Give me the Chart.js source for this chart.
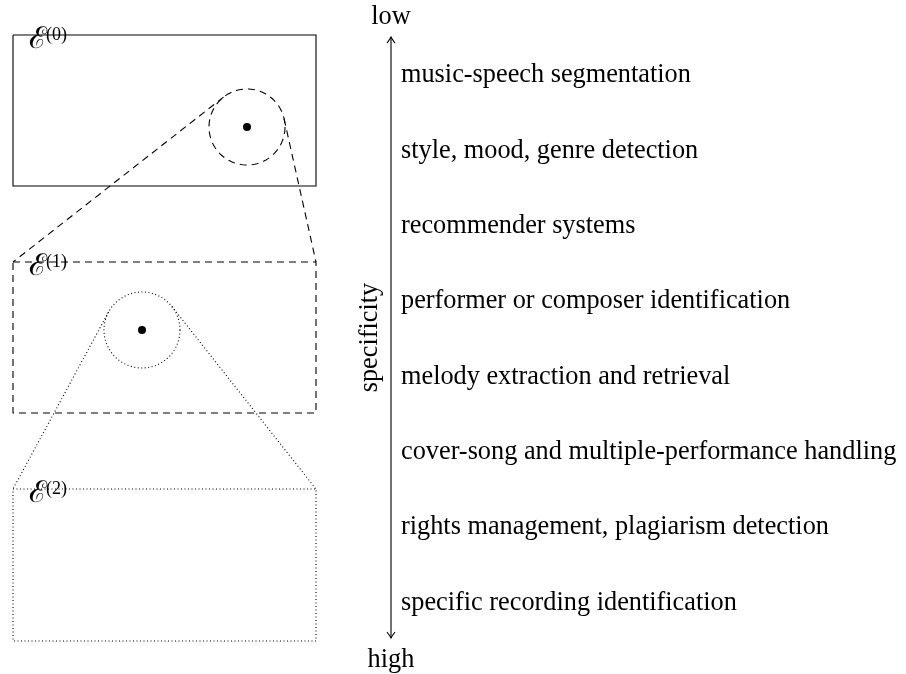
<!DOCTYPE html>
<html>
<head>
<meta charset="utf-8">
<script src="https://cdn.jsdelivr.net/npm/chart.js@4"></script>
<style>
  body { margin: 0; background: #fff; }
  #wrap { width: 906px; height: 674px; }
</style>
</head>
<body>
<div id="wrap"><canvas id="diagram" width="906" height="674"></canvas></div>
<script>
// tasks, from least specific (top) to most specific (bottom)
const tasks = [
    'music-speech segmentation',
    'style, mood, genre detection',
    'recommender systems',
    'performer or composer identification',
    'melody extraction and retrieval',
    'cover-song and multiple-performance handling',
    'rights management, plagiarism detection',
    'specific recording identification'
]
const axisEnds = ['low', 'high']
const axisTitle = 'specificity'

// the nested neighbourhoods, in diagram units
const boxNames = ['0', '1', '2']
const boxLeft = [13, 13, 13]
const boxRight = [316, 316, 316]
const boxTop = [35, 262, 489]
const boxBottom = [186, 413, 641]
const centerX = [247, 142]
const centerY = [127, 330]
const radius = [38, 38]

const dashes = [[], [7, 5], [1, 2.5]]
const ink = '#000'
const serif = '"Liberation Serif", "DejaVu Serif", serif'

function boxPath(i) {
    return [
        { x: boxLeft[i], y: boxTop[i] },
        { x: boxRight[i], y: boxTop[i] },
        { x: boxRight[i], y: boxBottom[i] },
        { x: boxLeft[i], y: boxBottom[i] },
        { x: boxLeft[i], y: boxTop[i] }
    ]
}

function circlePath(i) {
    let pts = []
    for (let k = 0; k <= 120; k++) {
        let a = k / 120 * Math.PI * 2
        pts.push({ x: centerX[i] + radius[i] * Math.cos(a), y: centerY[i] + radius[i] * Math.sin(a) })
    }
    return pts
}

//tangent from a box corner to circle i, the one on the outer side
function tangent(i, px, py, otherX, otherY) {
    let dx = px - centerX[i], dy = py - centerY[i]
    let d = Math.hypot(dx, dy)
    let th = Math.atan2(dy, dx), al = Math.acos(radius[i] / d)
    let cands = [th + al, th - al].map(a => ({ x: centerX[i] + radius[i] * Math.cos(a), y: centerY[i] + radius[i] * Math.sin(a) }))
    cands.sort((a, b) => Math.hypot(b.x - otherX, b.y - otherY) - Math.hypot(a.x - otherX, a.y - otherY))
    return [cands[0], { x: px, y: py }]
}

let datasets = []
for (let i = 0; i < 3; i++) {
    datasets.push({ data: boxPath(i), borderDash: dashes[i] })
}
for (let i = 0; i < 2; i++) {
    let L = boxLeft[i + 1], R = boxRight[i + 1], T = boxTop[i + 1]
    datasets.push({ data: circlePath(i), borderDash: dashes[i + 1] })
    datasets.push({ data: tangent(i, L, T, R, T), borderDash: dashes[i + 1] })
    datasets.push({ data: tangent(i, R, T, L, T), borderDash: dashes[i + 1] })
}
datasets = datasets.map(d => Object.assign({
    showLine: true, pointRadius: 0, borderColor: ink, borderWidth: 1.1, tension: 0, fill: false
}, d))

// the two centre points
datasets.push({
    data: centerX.map((x, i) => ({ x: x, y: centerY[i] })),
    showLine: false, pointRadius: 4, pointBackgroundColor: '#000', pointBorderWidth: 0
})

// specificity arrow, on its own scale (one unit per task)
datasets.push({
    data: [{ x: 391, y: -0.49 }, { x: 391, y: tasks.length - 0.51 }],
    yAxisID: 'ys', showLine: true, pointRadius: 0, borderColor: ink, borderWidth: 1.1
})

const textPlugin = {
    id: 'texts',
    afterDatasetsDraw(chart) {
        const ctx = chart.ctx
        const sx = chart.scales.x, sy = chart.scales.y, ss = chart.scales.ys
        const ax = sx.getPixelForValue(391)
        ctx.save()
        ctx.fillStyle = '#000'
        ctx.strokeStyle = ink
        ctx.lineWidth = 1.1

        //arrow heads
        let top = ss.getPixelForValue(-0.49), bot = ss.getPixelForValue(tasks.length - 0.51)
        ctx.beginPath()
        ctx.moveTo(ax - 4, top + 6); ctx.quadraticCurveTo(ax - 1, top + 2, ax, top); ctx.quadraticCurveTo(ax + 1, top + 2, ax + 4, top + 6)
        ctx.moveTo(ax - 4, bot - 6); ctx.quadraticCurveTo(ax - 1, bot - 2, ax, bot); ctx.quadraticCurveTo(ax + 1, bot - 2, ax + 4, bot - 6)
        ctx.stroke()

        ctx.font = '26.3px ' + serif
        ctx.textBaseline = 'middle'
        ctx.textAlign = 'left'
        tasks.forEach((t, i) => ctx.fillText(t, ax + 10, ss.getPixelForValue(i) + 1.5))

        ctx.textAlign = 'center'
        ctx.fillText(axisEnds[0], ax, ss.getPixelForValue(-0.76))
        ctx.fillText(axisEnds[1], ax, ss.getPixelForValue(tasks.length - 0.22))

        ctx.save()
        ctx.translate(ax - 14, ss.getPixelForValue(3.5))
        ctx.rotate(-Math.PI / 2)
        ctx.textBaseline = 'alphabetic'
        ctx.fillText(axisTitle, 0, 0)
        ctx.restore()

        //E labels on the boxes
        ctx.textAlign = 'left'
        ctx.textBaseline = 'alphabetic'
        boxNames.forEach((n, i) => {
            let x = sx.getPixelForValue(boxLeft[i] + 16), y = sy.getPixelForValue(boxTop[i] + 13)
            ctx.font = '30px "DejaVu Serif", serif'
            ctx.fillText('\u2130', x, y)
            let w = ctx.measureText('\u2130').width
            ctx.font = '18px ' + serif
            ctx.fillText('(' + n + ')', x + w - 1, y - 8)
        })
        ctx.restore()
    }
}

const spacing = 75.3
new Chart(document.getElementById('diagram'), {
    type: 'scatter',
    data: { datasets: datasets },
    options: {
        responsive: false,
        animation: false,
        layout: { padding: 0, autoPadding: false },
        plugins: { legend: { display: false }, tooltip: { enabled: false } },
        scales: {
            x: { type: 'linear', min: 0, max: 906, display: false },
            y: { type: 'linear', min: 0, max: 674, reverse: true, display: false },
            ys: { type: 'linear', min: -74 / spacing, max: (674 - 74) / spacing, reverse: true, display: false }
        }
    },
    plugins: [textPlugin]
})
</script>
</body>
</html>
